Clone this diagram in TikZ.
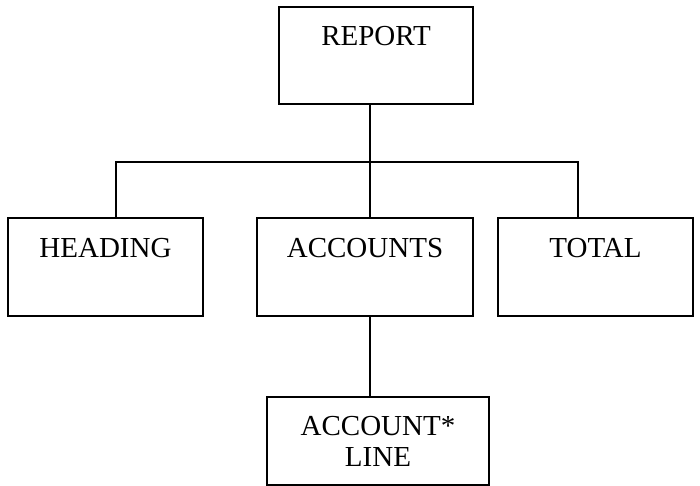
\documentclass[tikz,border=0pt]{standalone}
\usepackage{fontspec}
\setmainfont{Liberation Serif}
\begin{document}
\begin{tikzpicture}[x=0.5pt, y=-0.5pt, line width=1pt, font=\fontsize{14.5}{15.5}\selectfont,
        every node/.style={draw, inner sep=0pt, outer sep=0pt, align=center},
        topbox/.style={text height=19.5pt, text depth=29.5pt}]
        \useasboundingbox (0,0) rectangle (700,486);
        \node[topbox, minimum width=97pt, text depth=29pt] (report) at (376, 55.5) {REPORT};
        \node[topbox, minimum width=97.5pt] (heading) at (105.5, 267) {HEADING};
        \node[topbox, minimum width=108pt] (accounts) at (365, 267) {ACCOUNTS};
        \node[topbox, minimum width=97.5pt] (total) at (595.5, 267) {TOTAL};
        \node[minimum width=111pt, minimum height=44pt] (acctline) at (378, 441) {ACCOUNT*\\LINE};
        % joints
        \coordinate (bus) at (370, 162);
        \coordinate (hbus) at (116, 162);
        \coordinate (tbus) at (578, 162);
        \draw (report.south -| bus) -- (accounts.north -| bus);
        \draw (hbus |- heading.north) -- (hbus) -- (tbus) -- (tbus |- total.north);
        \draw (accounts.south -| bus) -- (acctline.north -| bus);
    \end{tikzpicture}
\end{document}
